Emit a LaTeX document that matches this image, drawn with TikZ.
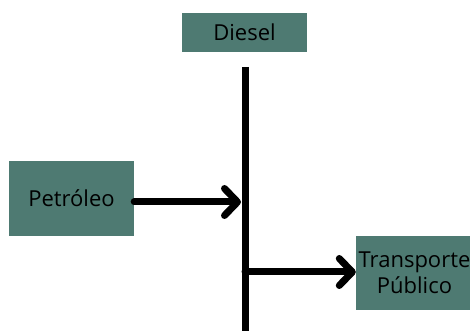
\documentclass[tikz,border=0pt]{standalone}
\usepackage{fontspec}
\setmainfont{Open Sans}
\usetikzlibrary{arrows.meta}
\definecolor{boxteal}{HTML}{4E7A72}
\tikzset{
  flowbox/.style={fill=boxteal, draw=none, inner sep=0pt, font=\fontsize{22}{26}\selectfont, text=black, align=center},
  thickline/.style={line width=7pt, line cap=round, line join=round},
  flowarrow/.style={thickline, -{Straight Barb[length=13pt, width=27pt, line cap=round, line join=round]}}
}
\begin{document}
\begin{tikzpicture}[x=1pt, y=-1pt]
  \useasboundingbox (0,0) rectangle (472,331);
  % boxes
  \node[flowbox, minimum width=125pt, minimum height=39pt] (diesel) at (244.5,32.5) {Diesel};
  \node[flowbox, minimum width=125pt, minimum height=75pt] (petroleo) at (71.5,198.5) {Petr\'oleo};
  \node[flowbox, minimum width=114pt, minimum height=74pt] (transp) at (413,273) {};
  \node[font=\fontsize{22}{26}\selectfont, align=center, inner sep=0pt] (transptext) at (414.5,273) {Transporte\\P\'ublico};
  % vertical distribution line
  \coordinate (top) at (245,67);
  \coordinate (bottom) at (245,331);
  \draw[line width=7pt] (top) -- (bottom);
  \coordinate (join1) at (241,202);
  \coordinate (join2) at (245,272);
  \draw[flowarrow] (petroleo.east |- join1) -- (join1);
  \draw[flowarrow] (join2) -- (transp.west |- join2);
\end{tikzpicture}
\end{document}
